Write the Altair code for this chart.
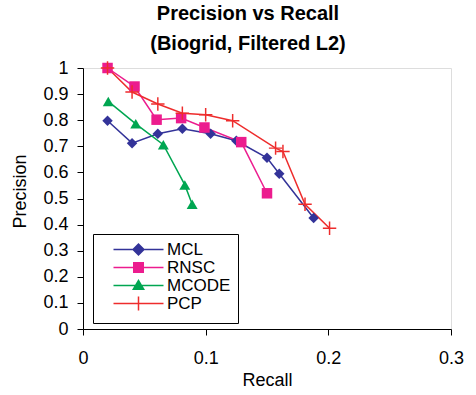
import altair as alt
import pandas as pd

series_names = ["MCL", "RNSC", "MCODE", "PCP"]
colors = ["#333399", "#ec1c8e", "#00a651", "#ee2c2c"]

mcl_recall = [0.020, 0.040, 0.061, 0.081, 0.104, 0.125, 0.150, 0.160, 0.188]
mcl_precision = [0.798, 0.712, 0.748, 0.767, 0.748, 0.721, 0.656, 0.595, 0.425]

rnsc_recall = [0.020, 0.042, 0.060, 0.080, 0.099, 0.129, 0.150]
rnsc_precision = [1.000, 0.929, 0.802, 0.808, 0.772, 0.716, 0.520]

mcode_recall = [0.0206, 0.043, 0.0655, 0.083, 0.089]
mcode_precision = [0.872, 0.786, 0.706, 0.552, 0.478]

pcp_recall = [0.020, 0.040, 0.061, 0.081, 0.100, 0.122, 0.157, 0.163, 0.181, 0.201]
pcp_precision = [1.000, 0.908, 0.862, 0.827, 0.821, 0.798, 0.693, 0.680, 0.478, 0.386]

x_ticks = [0, 0.1, 0.2, 0.3]
y_ticks = [0, 0.1, 0.2, 0.3, 0.4, 0.5, 0.6, 0.7, 0.8, 0.9, 1.0]

rows = []
for name, rx, py in [
    ("MCL", mcl_recall, mcl_precision),
    ("RNSC", rnsc_recall, rnsc_precision),
    ("MCODE", mcode_recall, mcode_precision),
    ("PCP", pcp_recall, pcp_precision),
]:
    for i, (r, p) in enumerate(zip(rx, py)):
        rows.append({"series": name, "recall": r, "precision": p, "order": i})
df = pd.DataFrame(rows)

FONT = "Liberation Sans"

x_enc = alt.X(
    "recall:Q",
    scale=alt.Scale(domain=[0, 0.3], nice=False),
    axis=alt.Axis(
        values=x_ticks, format="~g", title="Recall", grid=False,
        tickSize=6, labelPadding=14, labelFontSize=18, titleFontSize=18,
        titleFontWeight="normal", titleY=56, titleBaseline="alphabetic",
        labelFont=FONT, titleFont=FONT, domainColor="black", tickColor="black",
        labelColor="black", titleColor="black", labelFlush=False,
    ),
)
y_enc = alt.Y(
    "precision:Q",
    scale=alt.Scale(domain=[0, 1], nice=False),
    axis=alt.Axis(
        values=y_ticks, format="~g", title="Precision", grid=False,
        tickSize=6, labelPadding=9, labelFontSize=18, titleFontSize=18,
        titleFontWeight="normal", titleX=-58, titleY=123, titleAngle=270,
        titleBaseline="alphabetic", titleAlign="center",
        labelFont=FONT, titleFont=FONT, domainColor="black", tickColor="black",
        labelColor="black", titleColor="black", labelFlush=False,
    ),
)

plus_path = "M-1,-0.11H1V0.11H-1Z M-0.11,-1H0.11V1H-0.11Z"
point_shapes = ["diamond", "square", "triangle-up", plus_path]
point_sizes = [110, 110, 120, 180]

layers = []
for name, c in zip(series_names, colors):
    layers.append(
        alt.Chart(df).transform_filter(alt.datum.series == name)
        .mark_line(strokeWidth=1.5, color=c)
        .encode(x=x_enc, y=y_enc, order="order:Q")
    )
for name, c, shp, sz in zip(series_names, colors, point_shapes, point_sizes):
    layers.append(
        alt.Chart(df).transform_filter(alt.datum.series == name)
        .mark_point(filled=True, shape=shp, size=sz, opacity=1, color=c)
        .encode(x=x_enc, y=y_enc)
    )

# legend symbols: a line segment with the marker in its middle (unit = 7px)
legend_shapes = [
    "M0.714,-0.107H7.857V0.107H0.714Z M4.286,-0.93L5.216,0L4.286,0.93L3.356,0Z",
    "M0.714,-0.107H7.857V0.107H0.714Z M3.5,-0.786H5.072V0.786H3.5Z",
    "M0.714,-0.107H7.857V0.107H0.714Z M4.286,-0.93L5.216,0.64H3.356Z",
    "M0.714,-0.107H7.857V0.107H0.714Z M4.179,-1H4.393V1H4.179Z M4.286,1.7",
]

legend_layer = alt.Chart(df).transform_filter("datum.precision > 5").mark_point(
    filled=True, opacity=1
).encode(
    x=x_enc, y=y_enc,
    color=alt.Color("series:N", scale=alt.Scale(domain=series_names, range=colors),
                    legend=alt.Legend(title=None)),
    shape=alt.Shape("series:N", scale=alt.Scale(domain=series_names, range=legend_shapes),
                    legend=alt.Legend(title=None)),
)
layers.append(legend_layer)

chart = alt.layer(*layers).properties(
    width=368, height=261,
    padding={"left": 83, "top": 68, "right": 25, "bottom": 66},
    autosize=alt.AutoSizeParams(type="none"),
    title=alt.TitleParams(
        text=["Precision vs Recall", "(Biogrid, Filtered L2)"],
        fontSize=20, font=FONT, fontWeight="bold", color="black",
        anchor="middle", dx=-19, lineHeight=30, offset=5.5,
    ),
).configure_view(stroke=None).configure(background="white").configure_legend(
    orient="none", legendX=10, legendY=166,
    labelFontSize=17, labelFont=FONT, labelColor="black",
    symbolSize=196, symbolStrokeWidth=0, rowPadding=0, labelOffset=50,
    padding=7, strokeColor="black", fillColor="white",
)

chart.save("out.html", embed_options={"renderer": "svg", "actions": False})
